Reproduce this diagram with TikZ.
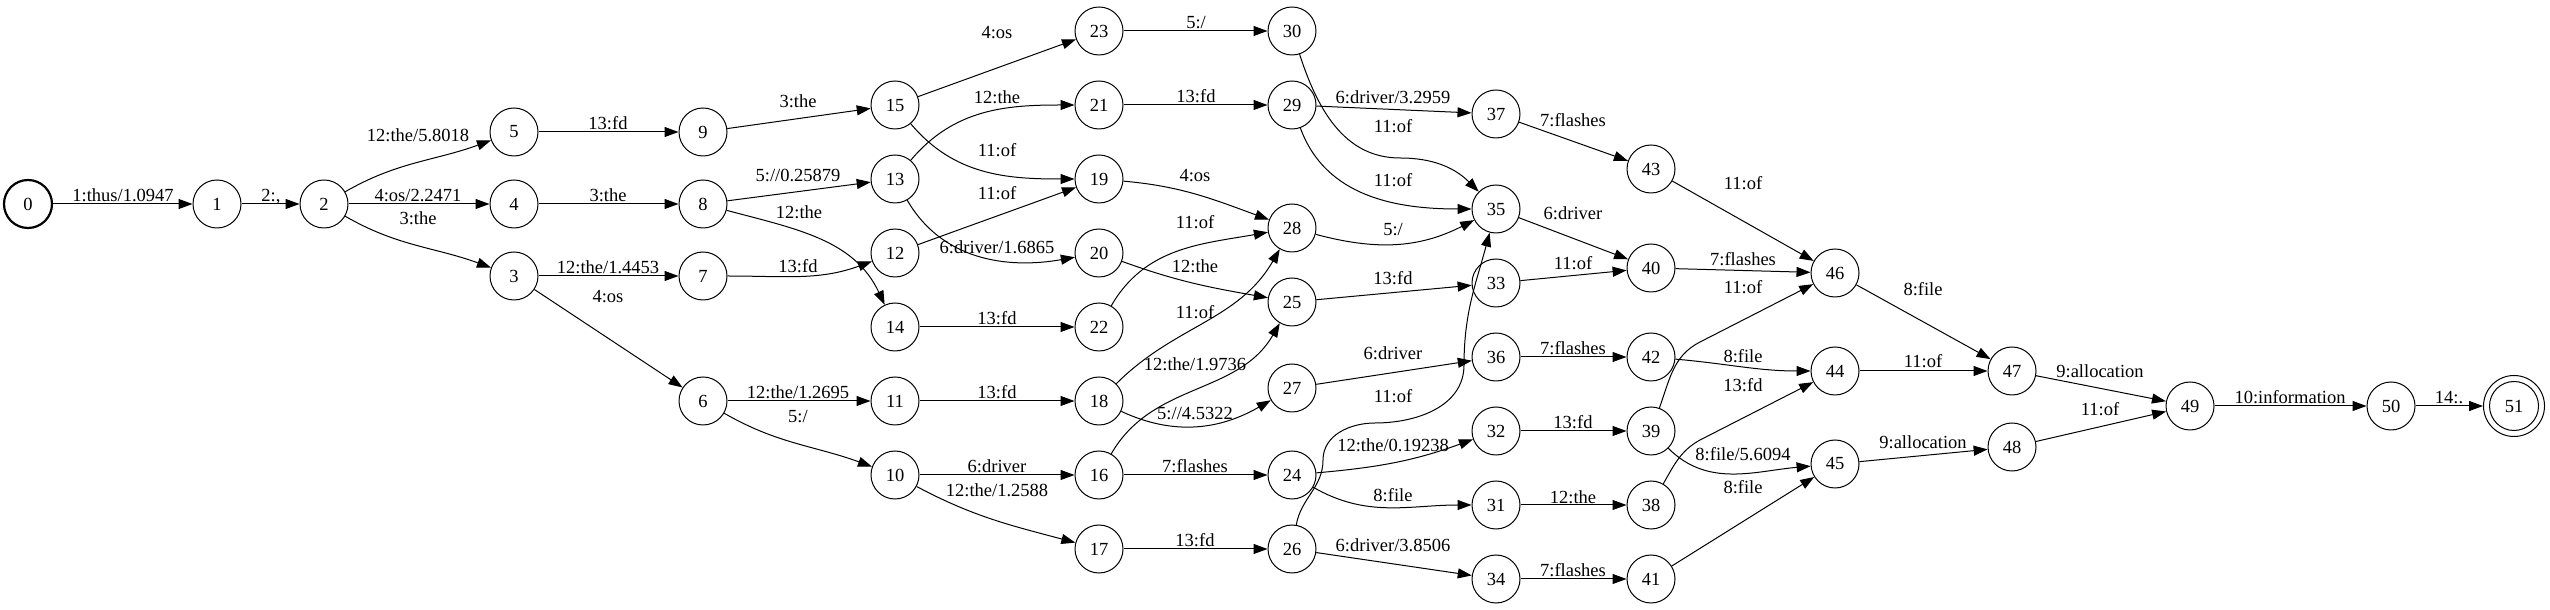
\documentclass[tikz,border=0pt]{standalone}
\usepackage{fontspec}
\setmainfont{Liberation Serif}
\usetikzlibrary{arrows.meta}
\newcommand{\myfs}{\fontsize{18.5}{20}\selectfont}
\begin{document}
\begin{tikzpicture}[x=1pt,y=1pt,
 st/.style={circle,draw,line width=1pt,minimum size=48pt,inner sep=0pt,font=\myfs},
 e/.style={line width=1pt,-{Triangle[length=14pt,width=10pt]}},
 lbl/.style={inner sep=0pt,text height=13pt,text depth=0pt,font=\myfs}]
\useasboundingbox (0,0) rectangle (2550,610);
% nodes
\node[st,line width=2.2pt] (n0) at (28,406) {0};
\node[st] (n1) at (217,406) {1};
\node[st] (n2) at (324,406) {2};
\node[st] (n5) at (514,478) {5};
\node[st] (n4) at (514,406) {4};
\node[st] (n3) at (514,334) {3};
\node[st] (n9) at (703,478) {9};
\node[st] (n8) at (703,406) {8};
\node[st] (n7) at (703,334) {7};
\node[st] (n6) at (703,209) {6};
\node[st] (n15) at (895,505) {15};
\node[st] (n13) at (895,431) {13};
\node[st] (n12) at (895,357) {12};
\node[st] (n14) at (895,283) {14};
\node[st] (n11) at (895,209) {11};
\node[st] (n10) at (895,135) {10};
\node[st] (n23) at (1099,579) {23};
\node[st] (n21) at (1099,505) {21};
\node[st] (n19) at (1099,431) {19};
\node[st] (n20) at (1099,357) {20};
\node[st] (n22) at (1099,283) {22};
\node[st] (n18) at (1099,209) {18};
\node[st] (n16) at (1099,135) {16};
\node[st] (n17) at (1099,61) {17};
\node[st] (n30) at (1292,579) {30};
\node[st] (n29) at (1292,505) {29};
\node[st] (n28) at (1292,382) {28};
\node[st] (n25) at (1292,308) {25};
\node[st] (n27) at (1292,222) {27};
\node[st] (n24) at (1292,135) {24};
\node[st] (n26) at (1292,61) {26};
\node[st] (n37) at (1496,496) {37};
\node[st] (n35) at (1496,401) {35};
\node[st] (n33) at (1496,327) {33};
\node[st] (n36) at (1496,253) {36};
\node[st] (n32) at (1496,179) {32};
\node[st] (n31) at (1496,105) {31};
\node[st] (n34) at (1496,31) {34};
\node[st] (n43) at (1651,441) {43};
\node[st] (n40) at (1651,342) {40};
\node[st] (n42) at (1651,253) {42};
\node[st] (n39) at (1651,179) {39};
\node[st] (n38) at (1651,105) {38};
\node[st] (n41) at (1651,31) {41};
\node[st] (n46) at (1835,337) {46};
\node[st] (n44) at (1835,239) {44};
\node[st] (n45) at (1835,146) {45};
\node[st] (n47) at (2012,239) {47};
\node[st] (n48) at (2012,163) {48};
\node[st] (n49) at (2190,204) {49};
\node[st] (n50) at (2391,204) {50};
\node[st,minimum size=61pt] (n51) at (2514,204) {51};
\draw[line width=1pt] (n51.center) circle (24.5pt);
% edges
\draw[e] (n0) -- (n1);
\draw[e] (n1) -- (n2);
\draw[e] (n2) to[out=30,in=200] (n5);
\draw[e] (n2) -- (n4);
\draw[e] (n2) to[out=-30,in=160] (n3);
\draw[e] (n5) -- (n9);
\draw[e] (n4) -- (n8);
\draw[e] (n3) -- (n7);
\draw[e] (n3) -- (n6);
\draw[e] (n9) -- (n15);
\draw[e] (n8) -- (n13);
\draw[e] (n8) to[out=-15,in=115] (n14);
\draw[e] (n7) to[out=0,in=200] (n12);
\draw[e] (n6) -- (n11);
\draw[e] (n6) to[out=-30,in=160] (n10);
\draw[e] (n15) -- (n23);
\draw[e] (n15) to[out=-50,in=180] (n19);
\draw[e] (n13) to[out=50,in=180] (n21);
\draw[e] (n13) to[out=-60,in=190] (n20);
\draw[e] (n12) to[out=20,in=200] (n19);
\draw[e] (n14) -- (n22);
\draw[e] (n11) -- (n18);
\draw[e] (n10) -- (n16);
\draw[e] (n10) to[out=-28,in=165] (n17);
\draw[e] (n23) -- (n30);
\draw[e] (n21) -- (n29);
\draw[e] (n19) to[out=-5,in=160] (n28);
\draw[e] (n22) to[out=60,in=190] (n28);
\draw[e] (n20) to[out=-20,in=170] (n25);
\draw[e] (n18) to[out=45,in=240] (n28);
\draw[e] (n16) to[out=60,in=240] (n25);
\draw[e] (n18) to[out=-25,in=210] (n27);
\draw[e] (n16) -- (n24);
\draw[e] (n17) -- (n26);
\draw[e] (n29) -- (n37);
\draw[e] (n29) to[out=-70,in=180] (n35);
\draw[e] (n30) to[out=-72,in=180] (1400,452) to[out=0,in=135] (n35);
\draw[e] (n28) to[out=-15,in=207] (n35);
\draw[e] (n26) to[out=80,in=-90] (1323,150) to[out=90,in=180] (1375,187) to[out=0,in=-90] (1464,245) to[out=90,in=-105] (n35);
\draw[e] (n25) -- (n33);
\draw[e] (n27) -- (n36);
\draw[e] (n24) to[out=5,in=200] (n32);
\draw[e] (n24) to[out=-30,in=180] (n31);
\draw[e] (n26) -- (n34);
\draw[e] (n37) -- (n43);
\draw[e] (n35) -- (n40);
\draw[e] (n33) -- (n40);
\draw[e] (n36) -- (n42);
\draw[e] (n32) -- (n39);
\draw[e] (n31) -- (n38);
\draw[e] (n34) -- (n41);
\draw[e] (n43) -- (n46);
\draw[e] (n40) -- (n46);
\draw[e] (n39) to[out=70,in=207] (1700,268) -- (n46);
\draw[e] (n42) to[out=-5,in=180] (n44);
\draw[e] (n38) to[out=60,in=209] (1700,170) -- (n44);
\draw[e] (n39) to[out=-45,in=185] (n45);
\draw[e] (n41) -- (n45);
\draw[e] (n46) -- (n47);
\draw[e] (n44) -- (n47);
\draw[e] (n45) -- (n48);
\draw[e] (n47) -- (n49);
\draw[e] (n48) -- (n49);
\draw[e] (n49) -- (n50);
\draw[e] (n50) -- (n51);
% labels
\node[lbl] (l0) at (123,415) {1:thus/1.0947};
\node[lbl] (l1) at (271,415) {2:,};
\node[lbl] (l2) at (418,475) {12:the/5.8018};
\node[lbl] (l3) at (418,415) {4:os/2.2471};
\node[lbl] (l4) at (418,392) {3:the};
\node[lbl] (l5) at (608,487) {13:fd};
\node[lbl] (l6) at (798,509) {3:the};
\node[lbl] (l7) at (798,435) {5://0.25879};
\node[lbl] (l8) at (608,415) {3:the};
\node[lbl] (l9) at (799,398) {12:the};
\node[lbl] (l10) at (608,343) {12:the/1.4453};
\node[lbl] (l11) at (798,344) {13:fd};
\node[lbl] (l12) at (608,314) {4:os};
\node[lbl] (l13) at (798,218) {12:the/1.2695};
\node[lbl] (l14) at (798,194) {5:/};
\node[lbl] (l15) at (997,578) {4:os};
\node[lbl] (l16) at (1196,588) {5:/};
\node[lbl] (l17) at (997,513) {12:the};
\node[lbl] (l18) at (1196,514) {13:fd};
\node[lbl] (l19) at (997,460) {11:of};
\node[lbl] (l20) at (1195,435) {4:os};
\node[lbl] (l21) at (997,417) {11:of};
\node[lbl] (l22) at (1195,388) {11:of};
\node[lbl] (l23) at (997,363) {6:driver/1.6865};
\node[lbl] (l24) at (1195,344) {12:the};
\node[lbl] (l25) at (1195,298) {11:of};
\node[lbl] (l26) at (997,292) {13:fd};
\node[lbl] (l27) at (1195,246) {12:the/1.9736};
\node[lbl] (l28) at (997,218) {13:fd};
\node[lbl] (l29) at (1195,197) {5://4.5322};
\node[lbl] (l30) at (997,144) {6:driver};
\node[lbl] (l31) at (1195,144) {7:flashes};
\node[lbl] (l32) at (997,120) {12:the/1.2588};
\node[lbl] (l33) at (1195,70) {13:fd};
\node[lbl] (l34) at (1393,513) {6:driver/3.2959};
\node[lbl] (l35) at (1393,484) {11:of};
\node[lbl] (l36) at (1573,490) {7:flashes};
\node[lbl] (l37) at (1393,430) {11:of};
\node[lbl] (l38) at (1573,397) {6:driver};
\node[lbl] (l39) at (1393,381) {5:/};
\node[lbl] (l40) at (1573,347) {11:of};
\node[lbl] (l41) at (1393,332) {13:fd};
\node[lbl] (l42) at (1393,257) {6:driver};
\node[lbl] (l43) at (1573,262) {7:flashes};
\node[lbl] (l44) at (1393,214) {11:of};
\node[lbl] (l45) at (1573,188) {13:fd};
\node[lbl] (l46) at (1393,165) {12:the/0.19238};
\node[lbl] (l47) at (1393,115) {8:file};
\node[lbl] (l48) at (1573,113) {12:the};
\node[lbl] (l49) at (1393,65) {6:driver/3.8506};
\node[lbl] (l50) at (1573,40) {7:flashes};
\node[lbl] (l51) at (1743,427) {11:of};
\node[lbl] (l52) at (1743,351) {7:flashes};
\node[lbl] (l53) at (1743,323) {11:of};
\node[lbl] (l54) at (1923,321) {8:file};
\node[lbl] (l55) at (1743,254) {8:file};
\node[lbl] (l56) at (1743,225) {13:fd};
\node[lbl] (l57) at (1923,249) {11:of};
\node[lbl] (l58) at (1743,156) {8:file/5.6094};
\node[lbl] (l59) at (1743,123) {8:file};
\node[lbl] (l60) at (1923,168) {9:allocation};
\node[lbl] (l61) at (2100,239) {9:allocation};
\node[lbl] (l62) at (2100,201) {11:of};
\node[lbl] (l63) at (2290,213) {10:information};
\node[lbl] (l64) at (2449,213) {14:.};
\end{tikzpicture}
\end{document}
